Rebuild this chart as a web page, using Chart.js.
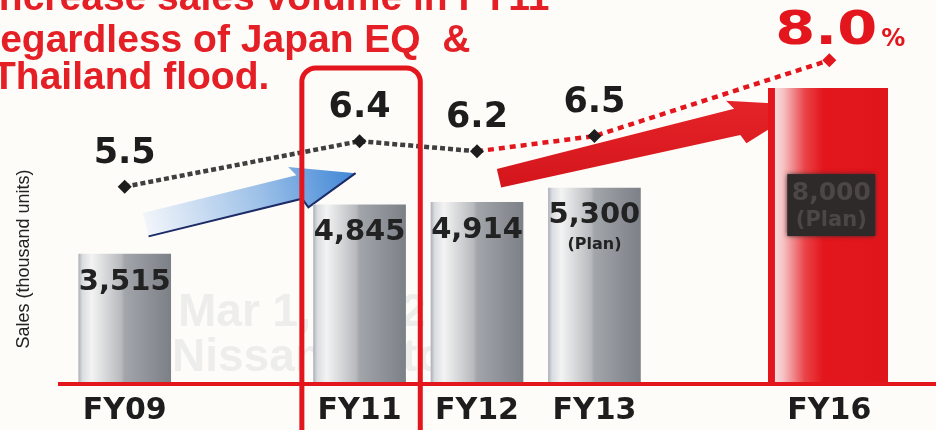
<!DOCTYPE html>
<html>
<head>
<meta charset="utf-8">
<script src="https://cdn.jsdelivr.net/npm/chart.js@4.4.0/dist/chart.umd.min.js"></script>
<style>
  html, body { margin: 0; padding: 0; background: #fdfcf8; overflow: hidden; }
  canvas { display: block; }
</style>
</head>
<body>
<canvas id="salesChart" width="936" height="430"></canvas>
<script>
// ---------- Data ----------

const fiscalYears = ['FY09', '', 'FY11', 'FY12', 'FY13', '', 'FY16'];
const salesResult = [3515, null, 4845, 4914, 5300, null, null];
const salesTarget = [null, null, null, null, null, null, 8000];
const salesLabels = ['3,515', '', '4,845', '4,914', '5,300', '', '8,000'];
const planFlags = [false, false, false, false, true, false, true];
const marketShare = [5.5, null, 6.4, 6.2, 6.5, null, 8.0];
const shareLabels = ['5.5', '', '6.4', '6.2', '6.5', '', '8.0'];

const titleLines = ['Increase sales volume in FY11', 'Regardless of Japan EQ  &', 'Thailand flood.'];
const yTitle = 'Sales (thousand units)';
const watermarkLines = ['Mar 1, 2012', 'Nissan Motor'];

// ---------- Styles ----------

const RED = '#e3161d';
const INK = '#1d1d1d';
const GRAY_W = 92;
const RED_W = 122;
const grayStops = [[0, '#aeb2ba'], [0.04, '#dadce0'], [0.14, '#f3f3f3'], [0.46, '#b8babe'], [0.5, '#a2a5aa'], [1, '#7c8087']];
const redStops = [[0, '#fbecec'], [0.12, '#f6c4c6'], [0.3, '#ea4448'], [0.45, '#e3161d'], [1, '#e0151c']];

function barGradient(c, stops, width) {
  const chart = c.chart;
  if (!chart.chartArea) return stops[stops.length - 1][1];
  const cx = chart.scales.x.getPixelForValue(c.dataIndex);
  const g = chart.ctx.createLinearGradient(cx - width / 2, 0, cx + width / 2, 0);
  stops.forEach(([o, col]) => g.addColorStop(o, col));
  return g;
}

function drawArrow(ctx, x0, y0, x1, y1, tailW, neckW, headW, headLen, fill, edge) {
  const dx = x1 - x0, dy = y1 - y0, len = Math.hypot(dx, dy);
  const ux = dx / len, uy = dy / len, nx = -uy, ny = ux;
  const nk = len - headLen;
  const p = (along, side) => [x0 + ux * along + nx * side, y0 + uy * along + ny * side];
  const pts = [p(0, -tailW / 2), p(nk, -neckW / 2), p(nk - 6, -headW / 2), [x1, y1],
               p(nk + 4, headW / 2), p(nk, neckW / 2), p(0, tailW / 2)];
  ctx.beginPath();
  pts.forEach(([x, y], i) => (i ? ctx.lineTo(x, y) : ctx.moveTo(x, y)));
  ctx.closePath();
  ctx.fillStyle = fill;
  ctx.fill();
  if (edge) {
    ctx.beginPath();
    ctx.moveTo(...pts[6]);
    ctx.lineTo(...pts[5]);
    ctx.lineTo(...pts[4]);
    ctx.lineTo(...pts[3]);
    ctx.strokeStyle = edge;
    ctx.lineWidth = 2;
    ctx.stroke();
  }
}

// ---------- Decorations ----------

const slideDecor = {
  id: 'slideDecor',
  beforeDraw(chart) {
    const ctx = chart.ctx;
    ctx.save();
    ctx.fillStyle = '#fdfcf8';
    ctx.fillRect(0, 0, chart.width, chart.height);

    // faint watermark behind bars
    ctx.fillStyle = '#ededec';
    ctx.font = 'bold 46px "Liberation Sans", Arial, sans-serif';
    ctx.textBaseline = 'alphabetic';
    ctx.fillText(watermarkLines[0], 178, 326);
    ctx.fillText(watermarkLines[1], 172, 371);

    // headline
    ctx.fillStyle = '#e41f25';
    ctx.font = 'bold 39px "Liberation Sans", Arial, sans-serif';
    ctx.fillText(titleLines[0], -12, 10);
    ctx.fillText(titleLines[1], -28, 52);
    ctx.fillText(titleLines[2], -8, 89);

    // y axis title
    ctx.translate(24, 259);
    ctx.rotate(-Math.PI / 2);
    ctx.fillStyle = '#222';
    ctx.font = '18px "Liberation Sans", Arial, sans-serif';
    ctx.textAlign = 'center';
    ctx.textBaseline = 'middle';
    ctx.fillText(yTitle, 0, 0);
    ctx.restore();
  },
  beforeDatasetsDraw(chart) {
    const ctx = chart.ctx;
    const x = chart.scales.x, y2 = chart.scales.y2;
    ctx.save();
    // blue arrow FY09 -> FY11
    const bx0 = x.getPixelForValue(0) + 21, by0 = y2.getPixelForValue(marketShare[0]) + 38;
    const bx1 = x.getPixelForValue(2) - 4, by1 = y2.getPixelForValue(marketShare[2]) + 32;
    const bg = ctx.createLinearGradient(bx0, by0, bx1, by1);
    bg.addColorStop(0, '#f2f5fa');
    bg.addColorStop(0.55, '#9cc0e8');
    bg.addColorStop(1, '#3f86d6');
    drawArrow(ctx, bx0, by0, bx1, by1, 24, 24, 44, 58, bg, '#1c2a66');

    // red arrow FY12 -> FY16
    const rx0 = x.getPixelForValue(3) + 22, ry0 = y2.getPixelForValue(marketShare[3]) + 27;
    const rx1 = x.getPixelForValue(6) - 22, ry1 = y2.getPixelForValue(marketShare[6]) + 45;
    const rg = ctx.createLinearGradient(0, ry1 - 20, 0, ry0 + 12);
    rg.addColorStop(0, '#e8262b');
    rg.addColorStop(1, '#d3151b');
    drawArrow(ctx, rx0, ry0, rx1, ry1, 19, 27, 46, 72, rg, null);
    ctx.restore();
  },
  afterDatasetsDraw(chart) {
    const ctx = chart.ctx;
    const x = chart.scales.x, y = chart.scales.y;
    const area = chart.chartArea;
    ctx.save();

    // red base line
    const base = y.getPixelForValue(0);
    ctx.fillStyle = RED;
    ctx.fillRect(area.left - 8, base - 2, chart.width, 4);

    // bar value labels
    const grayMeta = chart.getDatasetMeta(1);
    ctx.textAlign = 'center';
    ctx.textBaseline = 'middle';
    salesResult.forEach((v, i) => {
      if (v == null) return;
      const bar = grayMeta.data[i];
      ctx.fillStyle = '#222';
      ctx.font = 'bold 29px "DejaVu Sans", sans-serif';
      ctx.fillText(salesLabels[i], bar.x, bar.y + 28);
      if (planFlags[i]) {
        ctx.font = 'bold 16px "DejaVu Sans", sans-serif';
        ctx.fillText('(Plan)', bar.x, bar.y + 57);
      }
    });

    // smudged target label on the red bar
    const redMeta = chart.getDatasetMeta(2);
    salesTarget.forEach((v, i) => {
      if (v == null) return;
      const bar = redMeta.data[i];
      const cx = bar.x + 2, cy = bar.y + 117;
      ctx.fillStyle = '#2f2a2a';
      ctx.shadowColor = '#2f2a2a';
      ctx.shadowBlur = 5;
      ctx.fillRect(cx - 44, cy - 31, 88, 62);
      ctx.shadowBlur = 0;
      ctx.fillStyle = '#4c4646';
      ctx.font = 'bold 25px "DejaVu Sans", sans-serif';
      ctx.fillText(salesLabels[i], cx, cy - 12);
      ctx.font = 'bold 21px "DejaVu Sans", sans-serif';
      ctx.fillText('(Plan)', cx, cy + 15);
    });

    // market share labels
    const lineMeta = chart.getDatasetMeta(0);
    marketShare.forEach((v, i) => {
      if (v == null) return;
      const pt = lineMeta.data[i];
      if (i === marketShare.length - 1) {
        ctx.save();
        ctx.fillStyle = RED;
        ctx.translate(pt.x - 3, pt.y - 28);
        ctx.scale(1.25, 1);
        ctx.font = 'bold 46px "DejaVu Sans", sans-serif';
        ctx.fillText(shareLabels[i], 0, 0);
        ctx.restore();
        ctx.fillStyle = RED;
        ctx.font = 'bold 24px "DejaVu Sans", sans-serif';
        ctx.textAlign = 'left';
        ctx.fillText('%', pt.x + 52, pt.y - 20);
        ctx.textAlign = 'center';
      } else {
        ctx.fillStyle = INK;
        ctx.font = 'bold 35px "DejaVu Sans", sans-serif';
        ctx.fillText(shareLabels[i], pt.x, pt.y - 33);
      }
    });

    // highlight frame around FY11
    const slot = x.width / fiscalYears.length;
    const fx = x.getPixelForValue(2);
    ctx.strokeStyle = RED;
    ctx.lineWidth = 5;
    ctx.beginPath();
    ctx.roundRect(fx - slot / 2 + 1, area.top + 28, slot + 1, chart.height, 14);
    ctx.stroke();
    ctx.restore();
  }
};

// ---------- Chart ----------

const ctx = document.getElementById('salesChart').getContext('2d');
const salesChart = new Chart(ctx, {
  data: {
    labels: fiscalYears,
    datasets: [
      {
        type: 'line',
        label: 'Market share (%)',
        data: marketShare,
        yAxisID: 'y2',
        order: 0,
        spanGaps: true,
        tension: 0,
        borderWidth: 4.5,
        borderColor: '#444',
        pointStyle: 'rectRot',
        pointRadius: 7,
        pointBorderWidth: 0,
        pointBackgroundColor: marketShare.map((_, i) => (i === marketShare.length - 1 ? RED : INK)),
        segment: {
          borderColor: (s) => (s.p0DataIndex >= 3 ? RED : '#3f3f3f'),
          borderDash: (s) => (s.p0DataIndex >= 3 ? [6, 5] : [5, 3])
        }
      },
      {
        type: 'bar',
        label: 'Sales',
        data: salesResult,
        yAxisID: 'y',
        order: 1,
        grouped: false,
        barThickness: GRAY_W,
        borderWidth: 0,
        backgroundColor: (c) => barGradient(c, grayStops, GRAY_W)
      },
      {
        type: 'bar',
        label: 'Sales target',
        data: salesTarget,
        yAxisID: 'y',
        order: 2,
        grouped: false,
        barThickness: RED_W,
        borderColor: RED,
        borderWidth: { left: 7, top: 0, right: 0, bottom: 0 },
        borderSkipped: false,
        backgroundColor: (c) => barGradient(c, redStops, RED_W)
      }
    ]
  },
  options: {
    responsive: false,
    animation: false,
    layout: { padding: { left: 66, right: 48, top: 40, bottom: 0 } },
    scales: {
      x: {
        type: 'category',
        offset: true,
        grid: { display: false, drawTicks: false },
        border: { display: false },
        ticks: {
          color: INK,
          padding: 9,
          autoSkip: false,
          maxRotation: 0,
          font: { family: '"DejaVu Sans", sans-serif', weight: 'bold', size: 30 }
        },
        afterFit: (s) => { s.height = 46; }
      },
      y: { display: false, min: 0, max: 9300 },
      y2: { display: false, min: 1.6, max: 8.4 }
    },
    plugins: {
      legend: { display: false },
      tooltip: { enabled: false }
    }
  },
  plugins: [slideDecor]
});
</script>
</body>
</html>
